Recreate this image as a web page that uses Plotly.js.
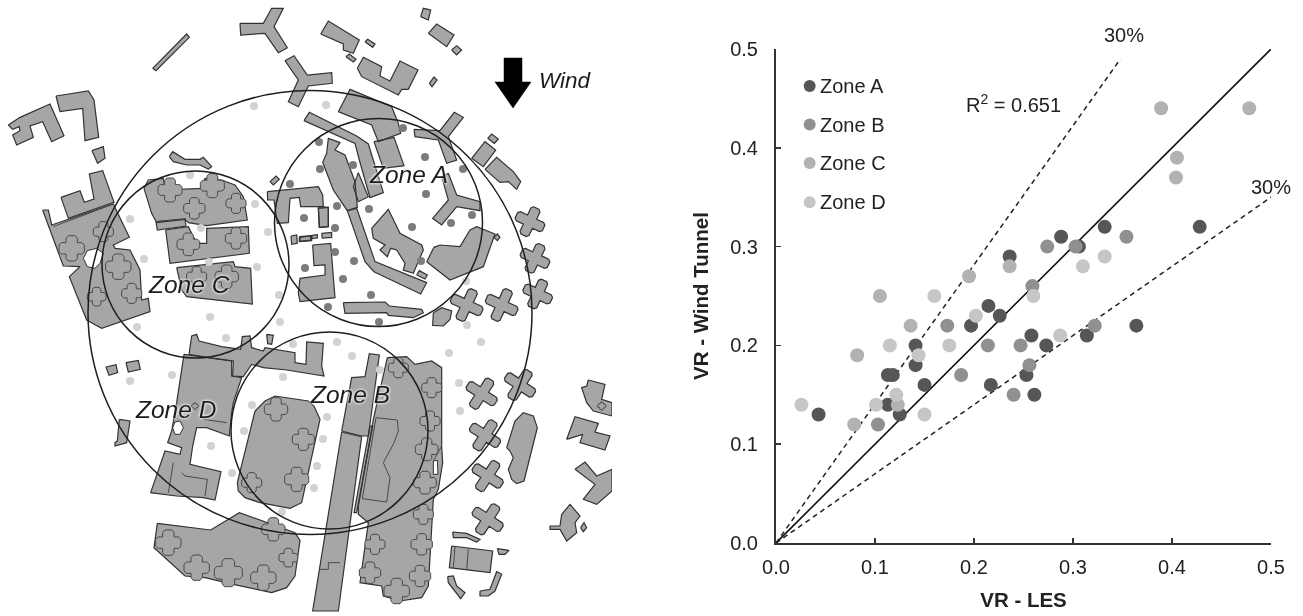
<!DOCTYPE html>
<html><head><meta charset="utf-8">
<script src="https://cdn.plot.ly/plotly-3.0.1.min.js"></script>
<style>html,body{margin:0;padding:0;background:#fff}#c{width:1303px;height:616px;filter:blur(.4px)}</style>
</head><body><div id="c"></div>
<script>
// ---------- scatter values ----------
const zoneA_x=[.236,.288,.306,.332,.428,.2146,.226,.197,.258,.273,.314,.364,.141,.141,.113,.118,.15,.217,.253,.261,.113,.125,.043];
const zoneA_y=[.29,.31,.30,.32,.32,.24,.23,.22,.21,.20,.21,.22,.20,.18,.17,.17,.16,.16,.17,.15,.14,.13,.13];
const zoneB_x=[.274,.3026,.354,.259,.173,.322,.214,.247,.256,.187,.24,.103];
const zoneB_y=[.30,.30,.31,.26,.22,.22,.20,.20,.18,.17,.15,.12];
const zoneC_x=[.389,.478,.405,.404,.236,.195,.105,.136,.082,.079,.123];
const zoneC_y=[.44,.44,.39,.37,.28,.27,.25,.22,.19,.12,.14];
const zoneD_x=[.332,.31,.16,.26,.202,.175,.115,.144,.287,.1215,.101,.0257,.15];
const zoneD_y=[.29,.28,.25,.25,.23,.20,.20,.19,.21,.15,.14,.14,.13];
const fitLine_x=[0,.5], fitLine_y=[0,.5];
const upper_x=[0,.348], upper_y=[0,.49];
const lower_x=[0,.5], lower_y=[0,.35];
const tickVals=[0,.1,.2,.3,.4,.5];
const tickText=['0.0','0.1','0.2','0.3','0.4','0.5'];
const zoneNames=['Zone A','Zone B','Zone C','Zone D'];
const zoneColors=['#565656','#909090','#b2b2b2','#c6c6c6'];
const keyX=[.034,.034,.034,.034], keyY=[.4625,.4235,.3845,.345];
const MS=14;

// ---------- map: points (pixel grid of the site plan) ----------
const darkDots_x=[403,319,425,353,320,463,426,337,369,304,472,451,412,335,335,354,421,305,343,371,328,379,290];
const darkDots_y=[128,142,157,165,169,169,194,206,209,218,215,223,227,228,252,261,261,268,279,295,307,322,184];
const lightDots_x=[326,466,254,190,255,130,201,268,144,209,257,279,210,280,137,226,172,130,211,232,283,252,244,293,282,337,352,380,327,323,317,314,467,481,449,459,460];
const lightDots_y=[105,281,106,175,204,219,228,232,259,262,267,295,317,322,327,338,375,381,446,473,377,405,431,344,512,342,356,370,417,439,466,488,325,342,353,383,411];
const circles=[[310,312.5,222],[378.5,222.5,104],[195.5,264.5,93.5],[329.5,430.5,98.5]];
const arrow=[504,58,522,58,522,82,531,82,513,108,495,82,504,82];

// buildings, each in 3x crop coordinates of its map quadrant
const bTL=[
[458,205,560,102,568,112,468,212],
[720,70,790,70,815,25,850,25,822,80,862,143,835,158,795,100,722,105],
[855,182,882,167,922,225,995,218,997,250,925,258,895,320,865,305,895,240],
[25,375,60,352,150,312,165,345,192,407,155,425,128,365,90,378,100,412,50,435,38,405,60,392,58,380,38,388],
[168,288,265,273,282,300,296,412,255,422,248,325,180,335],
[276,452,310,440,315,475,293,490],
[183,592,240,572,253,607,282,597,268,522,308,512,342,607,205,655],
[128,630,145,630,155,675,340,612,388,712,340,735,345,745,390,750,420,810,425,900,445,895,450,935,305,985,260,960,208,830,240,800,190,798,148,680],
[508,470,518,455,555,478,600,478,610,472,635,500,625,507,600,495,560,495,520,485],
[432,565,445,540,490,535,495,570,605,565,615,535,665,540,705,555,730,590,742,660,620,677,565,668,555,658,470,668,455,640],
[468,665,555,657,558,678,472,690],
[497,690,565,680,590,730,620,730,620,685,745,680,748,760,510,790],
[530,803,700,785,705,800,752,805,757,912,560,890,545,870],
[810,545,828,528,838,538,820,555],
[802,575,955,560,968,585,970,620,902,620,898,592,870,595,865,668,832,670,822,600,803,600],
[955,625,985,622,985,680,958,682],
[873,708,890,705,892,730,875,733],[898,710,935,707,935,722,898,725]];
const bTR=[
[362,50,370,25,392,30,385,60],
[385,100,410,72,462,105,440,140],
[455,150,470,137,485,150,470,165],
[62,102,85,63,178,120,160,160,130,150,130,132],
[195,125,203,118,225,132,218,142],
[138,170,148,162,168,178,160,186],
[172,205,190,172,245,200,240,228,270,243,300,183,354,210,325,268,305,268,295,285,185,230],
[388,250,402,231,411,240,396,260],
[115,335,150,268,275,320,295,370,302,400,235,425,215,375],
[222,425,282,412,312,497,250,505],
[12,362,28,337,170,408,205,432,250,578,210,593,178,480,165,430],
[68,487,80,460,85,415,120,428,105,450,135,465,165,545,172,622,142,632,100,570],
[160,560,175,518,205,590,175,605],
[142,632,170,625,225,785,380,848,362,882,222,815,195,785],
[215,685,265,628,300,700,365,735,370,750,340,820,310,810,315,790,290,750,272,745,262,770,240,750,255,735,220,715],
[350,825,358,812,382,825,375,837],
[380,785,402,742,420,735,480,740,510,690,530,680,585,702,550,800,450,840],
[582,712,592,702,600,712,592,722],
[445,520,470,585,540,605,540,632,470,620,425,675,398,655,445,600,425,530],
[342,388,420,392,463,337,490,352,445,410,470,480,440,490,415,420,345,410],
[515,475,555,425,587,450,550,500],
[563,415,575,402,595,417,583,430],
[555,508,590,472,640,515,662,545,650,568,625,545,600,547],
[55,620,85,622,85,680,58,682],
[0,712,32,708,32,720,0,724],[35,706,52,704,52,714,35,716],[65,700,95,697,95,712,67,714],
[38,735,92,730,105,893,10,905,0,905,-5,880,0,835,75,825,75,795,42,797]];
const bBL=[
[318,183,348,176,353,200,327,208],
[378,170,415,163,421,190,385,198],
[358,340,390,345,380,410,345,420,345,410,352,405],
[800,85,820,88,815,115,803,113],
[567,145,575,90,590,85,597,105,665,122,722,130,727,92,750,90,755,125,790,135,795,125,885,140,885,170,918,175,920,108,970,112,965,180,972,210,860,192,790,185,755,175,730,212,698,210,700,165,625,155,585,148],
[552,145,620,155,695,165,695,210,725,215,700,290,695,320,688,390,620,365,590,365,578,420,570,475,663,497,645,582,610,575,530,570,452,560,495,435,540,445,545,425,503,410,515,375,530,290],
[712,530,765,315,795,285,825,270,925,285,942,300,960,340,905,590,870,607,780,590,735,575,715,555],
[472,652,632,672,718,620,800,650,885,680,900,703,885,810,860,845,815,860,700,835,615,815,555,810,462,725]];
const bBR=[
[130,-10,255,-12,268,0,365,10,370,20,340,35,265,28,260,20,135,22],
[400,20,425,5,455,15,450,40,430,60,398,58],
[125,375,130,350,140,290,155,215,195,212,208,143,238,147,212,350,205,390,185,390],
[125,378,185,392,115,915,38,915],
[210,360,218,360,170,620,162,620],
[262,155,320,152,345,175,395,165,425,185,425,420,428,470,415,550,400,580,385,840,365,875,300,885,250,870,245,840,180,830,205,650,175,625,175,600,220,340],
[620,425,645,345,670,320,700,330,712,365,672,525,650,533,635,520,625,490,640,455,630,435],
[800,400,825,332,895,352,885,378,930,390,915,432,840,410,848,385],
[865,222,915,235,905,280,936,290,936,330,880,315,860,290,845,245,860,240],
[825,490,855,468,890,510,936,490,936,555,890,595,850,580,885,535],
[785,625,810,595,840,630,825,650,830,680,800,705,780,670,750,670,750,660,780,660],
[842,665,852,650,860,665,850,677],
[458,678,500,682,540,700,530,708,500,695,460,695],
[455,720,578,735,570,800,448,785],
[592,728,627,733,615,745,597,745],
[443,812,460,810,470,840,495,860,482,878,445,830],
[540,855,570,850,590,797,605,805,585,855,565,870,540,870]];
// cross-shaped blocks: centre x, centre y, arm length, arm half width, turn in degrees
const xTR=[[690,665,45,15,25],[705,775,45,15,25],[713,882,45,15,25],[500,915,50,15,25],[605,915,50,15,25]];
const xBR=[[545,263,50,15,33],[660,237,50,15,33],[555,388,50,15,33],[563,510,50,15,33],[563,640,50,15,33]];
// white openings inside the buildings
const hTL=[[250,775,262,752,290,745,310,760,300,790,285,805,262,800]];
const hBL=[[518,365,525,348,540,345,550,365,540,385,525,385]];
const hBR=[[400,465,412,463,414,505,400,505]];
// plain inner lines
const lBL=[[545,500,555,510,622,520,615,570],[520,470,505,560],[610,340,680,350]];
const lBR=[[228,335,292,342,295,375,280,415,250,470,270,515,260,588,187,578,228,335],[505,728,500,792],[465,722,460,787],[60,790,85,790,85,770,120,770],[125,378,185,392],[400,465,425,420]];
const lTL=[[470,665,555,657],[340,612,160,680]];
// inner plus-shaped courtyard outlines: centre x, centre y, half size
const tTL=[[510,570,36],[637,557,36],[708,610,30],[583,625,32],[565,733,34],[708,715,32],[215,745,38],[310,695,30],[355,800,38],[395,880,30],[290,890,28],[590,830,30],[680,830,35]];
const tBL=[[828,310,35],[910,400,33],[890,520,36],[755,530,30],[505,710,38],[590,785,38],[685,800,42],[790,815,38],[865,755,28],[820,670,35],[585,300,10]];
const tBR=[[295,185,30],[395,245,30],[390,345,30],[380,430,34],[375,530,34],[370,625,30],[365,715,32],[360,810,32],[290,855,38],[210,800,32],[225,715,30],[905,300,12]];

// ---------- build ----------
function addPoly(o,p,ox,oy,close){
  for(let i=0;i<p.length;i+=2){o.x.push(ox+p[i]/3);o.y.push(oy+p[i+1]/3);}
  if(close){o.x.push(ox+p[0]/3);o.y.push(oy+p[1]/3);}
  o.x.push(null);o.y.push(null);
}
function cross(c){
  const [cx,cy,L,h,deg]=c,t=deg*Math.PI/180,cs=Math.cos(t),sn=Math.sin(t),k=L-h*.45,e=h*.6;
  const q=[[-e,-L],[e,-L],[h,-k],[h,-h],[k,-h],[L,-e],[L,e],[k,h],[h,h],[h,k],[e,L],[-e,L],[-h,k],[-h,h],[-k,h],[-L,e],[-L,-e],[-k,-h],[-h,-h],[-h,-k]];
  const out=[];q.forEach(v=>{out.push(cx+v[0]*cs-v[1]*sn,cy+v[0]*sn+v[1]*cs);});return out;
}
const bld={x:[],y:[]};
[[bTL,0,0],[bTR,300,0],[bBL,0,306],[bBR,300,306]].forEach(t=>t[0].forEach(p=>addPoly(bld,p,t[1],t[2],true)));
[[xTR,300,0],[xBR,300,306]].forEach(t=>t[0].forEach(c=>addPoly(bld,cross(c),t[1],t[2],true)));
const holes={x:[],y:[]};[[hTL,0,0],[hBL,0,306],[hBR,300,306]].forEach(t=>t[0].forEach(p=>addPoly(holes,p,t[1],t[2],true)));
const inner={x:[],y:[]};
[[lTL,0,0],[lBL,0,306],[lBR,300,306]].forEach(t=>t[0].forEach(p=>addPoly(inner,p,t[1],t[2],false)));
const trees={x:[],y:[]};
[[tTL,0,0],[tBL,0,306],[tBR,300,306]].forEach(t=>t[0].forEach(c=>addPoly(trees,cross([c[0],c[1],c[2],c[2]*.45,0]),t[1],t[2],true)));
const arrowPts={x:[],y:[]};
for(let i=0;i<arrow.length;i+=2){arrowPts.x.push(arrow[i]);arrowPts.y.push(arrow[i+1]);}
arrowPts.x.push(arrow[0]);arrowPts.y.push(arrow[1]);

const mapBase={xaxis:'x2',yaxis:'y2',hoverinfo:'skip',showlegend:false};
const traces=[
 Object.assign({},mapBase,{type:'scatter',mode:'lines',x:bld.x,y:bld.y,fill:'toself',fillcolor:'#a6a6a6',line:{color:'#333',width:1.2}}),
 Object.assign({},mapBase,{type:'scatter',mode:'lines',x:trees.x,y:trees.y,fill:'toself',fillcolor:'#a6a6a6',line:{color:'#4a4a4a',width:1}}),
 Object.assign({},mapBase,{type:'scatter',mode:'lines',x:holes.x,y:holes.y,fill:'toself',fillcolor:'#ffffff',line:{color:'#333',width:1}}),
 Object.assign({},mapBase,{type:'scatter',mode:'lines',x:inner.x,y:inner.y,line:{color:'#4a4a4a',width:1}}),
 Object.assign({},mapBase,{type:'scatter',mode:'markers',x:lightDots_x,y:lightDots_y,marker:{size:8,color:'#d2d2d2'}}),
 Object.assign({},mapBase,{type:'scatter',mode:'markers',x:darkDots_x,y:darkDots_y,marker:{size:8,color:'#7c7c7c'}}),
 Object.assign({},mapBase,{type:'scatter',mode:'lines',x:arrowPts.x,y:arrowPts.y,fill:'toself',fillcolor:'#000',line:{color:'#000',width:.5}}),
 {type:'scatter',mode:'lines',x:fitLine_x,y:fitLine_y,line:{color:'#111',width:1.6},showlegend:false,hoverinfo:'skip'},
 {type:'scatter',mode:'lines',x:upper_x,y:upper_y,line:{color:'#222',width:1.5,dash:'5px,4px'},showlegend:false,hoverinfo:'skip'},
 {type:'scatter',mode:'lines',x:lower_x,y:lower_y,line:{color:'#222',width:1.5,dash:'5px,4px'},showlegend:false,hoverinfo:'skip'}
];
[[zoneA_x,zoneA_y],[zoneB_x,zoneB_y],[zoneC_x,zoneC_y],[zoneD_x,zoneD_y]].forEach((s,i)=>{
 traces.push({type:'scatter',mode:'markers',name:zoneNames[i],x:s[0],y:s[1],cliponaxis:false,showlegend:false,marker:{size:MS,color:zoneColors[i]}});
 traces.push({type:'scatter',mode:'markers',name:zoneNames[i]+' key',x:[keyX[i]],y:[keyY[i]],cliponaxis:false,showlegend:false,hoverinfo:'skip',marker:{size:12,color:zoneColors[i]}});
});

const F='"Liberation Sans",Arial,sans-serif', halo='0 0 3px #fff, 0 0 3px #fff';
function zoneLabel(t,x,y){return {text:t,xref:'x2',yref:'y2',x,y,showarrow:false,font:{family:F,size:24.5,color:'#1c1c1c',style:'italic',shadow:halo},xanchor:'center',yanchor:'middle'};}
function chartLabel(t,x,y,anchor){return {text:t,xref:'x',yref:'y',x,y,showarrow:false,font:{family:F,size:20,color:'#222'},xanchor:anchor||'center',yanchor:'middle'};}
const annotations=[
 zoneLabel('Zone A',408,174),zoneLabel('Zone C',189,284),zoneLabel('Zone D',175,409),zoneLabel('Zone B',350,394),
 {text:'Wind',xref:'x2',yref:'y2',x:565,y:80,showarrow:false,font:{family:F,size:22.5,color:'#1c1c1c',style:'italic'}},
 {text:'30%',xref:'paper',yref:'paper',x:1124/1303,y:(616-35)/616,showarrow:false,font:{family:F,size:20,color:'#222'},xanchor:'center',yanchor:'middle'},
 {text:'30%',xref:'paper',yref:'paper',x:1271/1303,y:(616-187)/616,showarrow:false,font:{family:F,size:20,color:'#222'},xanchor:'center',yanchor:'middle'},
 {text:'R<sup>2</sup> = 0.651',xref:'x',yref:'y',x:.19,y:.4445,showarrow:false,xanchor:'left',yanchor:'middle',font:{family:F,size:20,color:'#222'}}
];
zoneNames.forEach((n,i)=>annotations.push(chartLabel(n,.0425,keyY[i],'left')));

const axisCommon={range:[0,.5],tickmode:'array',tickvals:tickVals,ticktext:tickText,ticks:'inside',ticklen:5,tickwidth:1.5,tickcolor:'#333',showline:true,linecolor:'#333',linewidth:2,showgrid:false,zeroline:false,tickfont:{family:F,size:20,color:'#222'}};
const layout={width:1303,height:616,autosize:false,margin:{l:0,r:0,t:0,b:0},paper_bgcolor:'#fff',plot_bgcolor:'rgba(0,0,0,0)',showlegend:false,
 xaxis:Object.assign({},axisCommon,{domain:[776/1303,1271/1303],anchor:'y',ticklabelstandoff:5,title:{text:'<b>VR - LES</b>',standoff:16,font:{family:F,size:20.5,color:'#222'}}}),
 yaxis:Object.assign({},axisCommon,{domain:[73/616,567/616],anchor:'x',ticklabelstandoff:12,title:{text:'<b>VR - Wind Tunnel</b>',standoff:16,font:{family:F,size:20.5,color:'#222'}}}),
 xaxis2:{domain:[0,612/1303],range:[0,612],visible:false,anchor:'y2',fixedrange:true},
 yaxis2:{domain:[0,1],range:[616,0],visible:false,anchor:'x2',fixedrange:true},
 annotations,
 shapes:circles.map(c=>({type:'circle',xref:'x2',yref:'y2',x0:c[0]-c[2],x1:c[0]+c[2],y0:c[1]-c[2],y1:c[1]+c[2],line:{color:'#1e1e1e',width:1.5},fillcolor:'rgba(0,0,0,0)'}))
};
Plotly.newPlot('c',traces,layout,{displayModeBar:false,staticPlot:true});
</script></body></html>
